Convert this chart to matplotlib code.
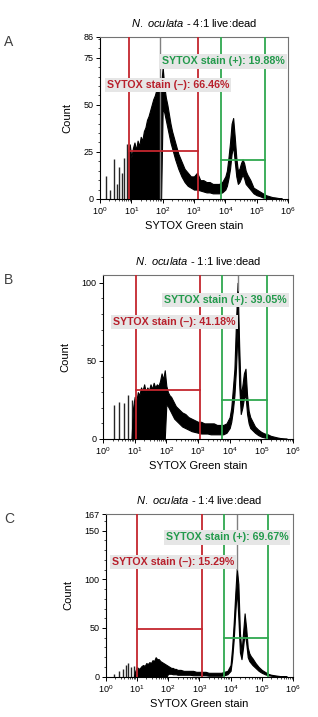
import numpy as np
import matplotlib
matplotlib.use("Agg")
import matplotlib.pyplot as plt
from matplotlib.ticker import LogLocator, LogFormatterMathtext, FixedLocator, MultipleLocator

plt.rcParams['font.family'] = ['Liberation Sans', 'DejaVu Sans']
plt.rcParams['mathtext.fontset'] = 'custom'
plt.rcParams['mathtext.rm'] = 'Liberation Sans'
plt.rcParams['mathtext.it'] = 'Liberation Sans:italic'

# shared histogram bins (log10 of SYTOX Green intensity)
log_bins = [0.90, 0.95, 1.00, 1.05, 1.10, 1.15, 1.20, 1.25, 1.30, 1.35, 1.40, 1.45,
            1.50, 1.55, 1.60, 1.65, 1.70, 1.75, 1.80, 1.85, 1.90, 1.95, 2.00, 2.05,
            2.10, 2.15, 2.20, 2.25, 2.30,
            2.4, 2.5, 2.6, 2.7, 2.8, 2.9, 3.0, 3.1, 3.2, 3.3, 3.4, 3.5, 3.6, 3.7, 3.8, 3.9,
            4.00, 4.05, 4.10, 4.15, 4.20, 4.25, 4.30, 4.35, 4.40, 4.45, 4.50, 4.55, 4.60,
            4.65, 4.70,
            4.8, 4.9, 5.0, 5.1, 5.2, 5.3, 5.4, 5.5, 5.6, 5.7, 5.8]

# ---- A: 4:1 live:dead
a_title = "4:1 live:dead"
a_ymax = 86
a_yticks = [0, 25, 50, 75, 86]
a_spike_logx = [0.20, 0.32, 0.45, 0.55, 0.62, 0.70, 0.78, 0.85]
a_spike_count = [12, 5, 21, 8, 17, 14, 22, 29]
a_hi = [25, 29, 22, 27, 30, 26, 31, 28, 33, 31, 36, 38, 42, 44, 47, 50, 53, 55, 58, 57, 62, 60,
        70, 60, 54, 50, 45, 40, 36,
        30, 24, 20, 16, 14, 12, 12, 14, 10, 10, 9, 9, 8, 8, 8, 9,
        12, 15, 22, 30, 40, 43, 33, 22, 15, 16, 19, 21, 19, 15, 13,
        10, 6, 5, 4, 3, 2, 1.5, 1, 0.8, 0.5, 0.4]
a_lo = [0] * 22 + [48, 46, 42, 38, 34, 30, 27,
                   21, 16, 12, 9, 7, 6, 5, 5, 4.5, 4, 3.5, 3.5, 3, 3, 3, 3.5,
                   5, 7, 11, 16, 24, 28, 20, 12, 8, 9, 11, 13, 11, 8, 7,
                   5, 3, 2, 1.5, 0.8, 0.5, 0.3, 0, 0, 0, 0]
a_offscale = [1.93, 0]
a_neg_gate = [8.6, 1300, 25.5]
a_pos_gate = [7100, 1.9e5, 20.5]
a_neg_pct = 66.46
a_pos_pct = 19.88
a_neg_label = [0.22, 60.5]
a_pos_label = [1.98, 73]

# ---- B: 1:1 live:dead
b_title = "1:1 live:dead"
b_ymax = 105
b_yticks = [0, 50, 100]
b_spike_logx = [0.35, 0.52, 0.66, 0.80, 0.93]
b_spike_count = [22, 24, 23, 28, 25]
b_hi = [0, 20, 27, 24, 30, 28, 33, 31, 35, 30, 33, 31, 35, 32, 36, 33, 35, 34, 37, 42, 38, 44,
        34, 30, 28, 27, 25, 23, 21,
        19, 17, 16, 14, 13, 12, 11, 11, 10, 10, 10, 10, 9, 9, 9, 10,
        14, 20, 32, 45, 75, 100, 60, 28, 34, 42, 45, 28, 18, 14, 12,
        8, 6, 4.5, 3.5, 3, 2, 1.5, 1, 0.6, 0.4, 0.3]
b_lo = [0] * 22 + [22, 21, 19, 17, 15, 13, 12,
                   10, 8, 7, 6, 5, 4.5, 4, 3.5, 3.5, 3.5, 3, 3, 3, 3, 3, 4,
                   7, 11, 18, 28, 45, 70, 35, 16, 20, 26, 28, 16, 10, 7, 6,
                   4, 2.5, 1.5, 1, 0.5, 0.2, 0, 0, 0, 0, 0]
b_offscale = [4.27, 95]
b_neg_gate = [10.8, 1180, 31.1]
b_pos_gate = [5880, 1.5e5, 25.2]
b_neg_pct = 41.18
b_pos_pct = 39.05
b_neg_label = [0.32, 74.7]
b_pos_label = [1.93, 88.8]

# ---- C: 1:4 live:dead
c_title = "1:4 live:dead"
c_ymax = 167
c_yticks = [0, 50, 100, 150, 167]
c_spike_logx = [0.28, 0.43, 0.55, 0.65, 0.72, 0.80, 0.90]
c_spike_count = [3, 6, 8, 12, 14, 10, 11]
c_hi = [0, 6, 10, 8, 9, 11, 12, 11, 14, 13, 15, 14, 17, 16, 20, 18, 18, 16, 15, 14, 13, 12,
        11, 10, 9, 9, 8, 8, 7,
        7, 6, 6, 6, 6, 5, 5, 5, 5, 4, 4, 4, 4, 4, 5, 6,
        12, 30, 55, 85, 112, 95, 45, 25, 45, 65, 50, 30, 24, 21, 19,
        14, 10, 7, 5, 3, 2, 1.5, 1, 0.6, 0.4, 0.3]
c_lo = [0] * 22 + [3, 3, 3, 2.5, 2.5, 2.5, 2,
                   2, 2, 2, 2, 1.5, 1.5, 1.5, 1.5, 1.5, 1, 1, 1, 1, 1, 1.5, 2.5,
                   6, 18, 38, 65, 90, 60, 25, 18, 30, 45, 35, 20, 16, 14, 12,
                   9, 6, 4, 2.5, 1.5, 1, 0.5, 0, 0, 0, 0]
c_offscale = [4.21, 110]
c_neg_gate = [9.8, 1180, 48.6]
c_pos_gate = [6160, 1.6e5, 39.7]
c_neg_pct = 15.29
c_pos_pct = 69.67
c_neg_label = [0.21, 118]
c_pos_label = [1.92, 142.9]

RED = '#c4262e'
GREEN = '#2fa84f'
RED_TXT = '#b8202c'
GREEN_TXT = '#239a4c'

panels = [
    ("A", [100 / 318, 1 - 199 / 717, 188 / 318, 162 / 717], a_title, a_ymax, a_yticks, 5,
     a_spike_logx, a_spike_count, a_hi, a_lo, a_offscale, a_neg_gate, a_pos_gate,
     a_neg_pct, a_pos_pct, a_neg_label, a_pos_label),
    ("B", [103 / 318, 1 - 439 / 717, 190 / 318, 164 / 717], b_title, b_ymax, b_yticks, 10,
     b_spike_logx, b_spike_count, b_hi, b_lo, b_offscale, b_neg_gate, b_pos_gate,
     b_neg_pct, b_pos_pct, b_neg_label, b_pos_label),
    ("C", [105.7 / 318, 1 - 676.7 / 717, 187.3 / 318, 162.7 / 717], c_title, c_ymax, c_yticks, 10,
     c_spike_logx, c_spike_count, c_hi, c_lo, c_offscale, c_neg_gate, c_pos_gate,
     c_neg_pct, c_pos_pct, c_neg_label, c_pos_label),
]

fig = plt.figure(figsize=(3.18, 7.17), dpi=100)

for (letter, rect, title, ymax, yticks, yminor, sx, sc, hi, lo, offs,
     neg_gate, pos_gate, neg_pct, pos_pct, neg_lab, pos_lab) in panels:
    ax = fig.add_axes(rect)
    x = 10 ** np.array(log_bins)

    # histogram
    ax.vlines(10 ** np.array(sx), 0, sc, color='0.15', lw=1.0, zorder=2)
    ax.fill_between(x, lo, hi, color='black', lw=0.8, edgecolor='black', zorder=2)
    ax.vlines(10 ** offs[0], offs[1], ymax * 1.2, color='0.5', lw=1.0, zorder=2)

    # gates
    for (g0, g1, gy), col in [(neg_gate, RED), (pos_gate, GREEN)]:
        ax.axvline(g0, color=col, lw=1.3, zorder=3)
        ax.axvline(g1, color=col, lw=1.3, zorder=3)
        ax.plot([g0, g1], [gy, gy], color=col, lw=1.3, zorder=3)

    ax.text(10 ** pos_lab[0], pos_lab[1], "SYTOX stain (+): %.2f%%" % pos_pct,
            color=GREEN_TXT, fontsize=7.7, fontweight='bold', va='center', ha='left',
            bbox=dict(facecolor='#e6e6e6', edgecolor='none', pad=1.5), zorder=4)
    ax.text(10 ** neg_lab[0], neg_lab[1], "SYTOX stain (\u2013): %.2f%%" % neg_pct,
            color=RED_TXT, fontsize=7.7, fontweight='bold', va='center', ha='left',
            bbox=dict(facecolor='#e6e6e6', edgecolor='none', pad=1.5), zorder=4)

    ax.set_xscale('log')
    ax.set_xlim(1, 1e6)
    ax.set_ylim(0, ymax)
    ax.xaxis.set_major_locator(LogLocator(base=10, numticks=10))
    ax.xaxis.set_minor_locator(LogLocator(base=10, subs=np.arange(2, 10), numticks=10))
    ax.xaxis.set_major_formatter(LogFormatterMathtext())
    ax.yaxis.set_major_locator(FixedLocator(yticks))
    ax.yaxis.set_minor_locator(MultipleLocator(yminor))
    ax.tick_params(which='major', direction='out', length=3, width=0.7, labelsize=6.5, pad=1.5)
    ax.tick_params(which='minor', direction='out', length=1.5, width=0.5)

    for side in ['left', 'bottom']:
        ax.spines[side].set_linewidth(0.8)
    for side in ['top', 'right']:
        ax.spines[side].set_color('0.45')
        ax.spines[side].set_linewidth(0.8)

    ax.set_xlabel("SYTOX Green stain", fontsize=8, labelpad=3)
    ax.set_ylabel("Count", fontsize=8, labelpad=8)
    ax.set_title(r"$\it{N.}$ $\it{oculata}$ - " + title, fontsize=8, pad=7)

    fig.text(0.012, rect[1] + rect[3] - 5 / 717, letter, fontsize=10, color='0.25',
             ha='left', va='center')

fig.savefig("out.png", dpi=100)
